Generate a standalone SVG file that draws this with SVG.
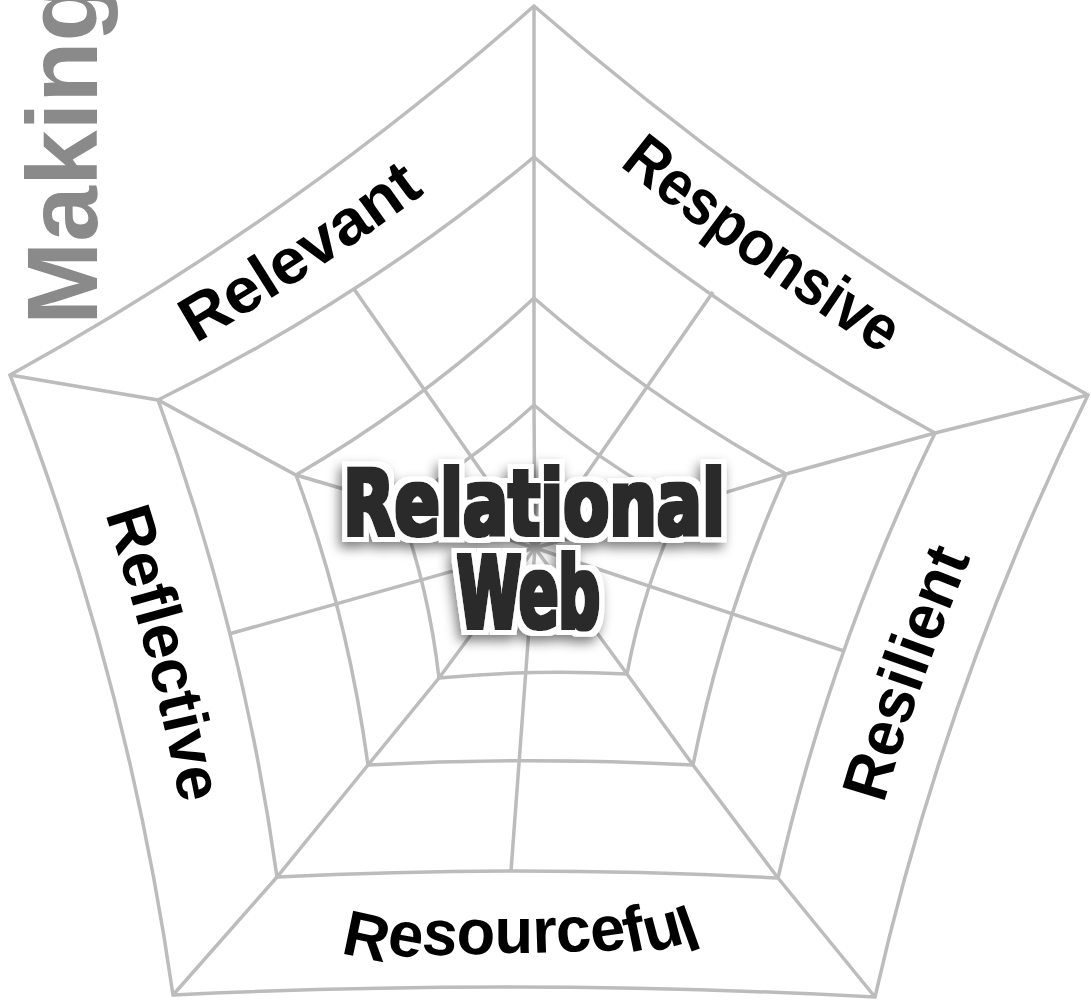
<svg xmlns="http://www.w3.org/2000/svg" width="1091" height="1002" viewBox="0 0 1091 1002">
<style>
.web{fill:none;stroke:#bcbcbc;stroke-width:3.5;stroke-linejoin:miter}
.lbl{font-family:"Liberation Sans",Arial,sans-serif;font-weight:bold;font-size:64px;fill:#000}
.title{font-family:"DejaVu Sans",sans-serif;font-weight:bold;font-stretch:condensed;fill:#2b2b2b}
.side{font-family:"Liberation Sans",Arial,sans-serif;font-weight:bold;fill:#8a8a8a}
</style>
<defs>
<filter id="tt" x="-15%" y="-40%" width="130%" height="190%">
<feMorphology in="SourceAlpha" operator="dilate" radius="1.5" result="bold"/>
<feMorphology in="bold" operator="dilate" radius="4.5" result="halo"/>
<feGaussianBlur in="halo" stdDeviation="6" result="blur"/>
<feOffset in="blur" dx="-3" dy="6" result="off"/>
<feFlood flood-color="#000" flood-opacity="0.5"/>
<feComposite in2="off" operator="in" result="shadow"/>
<feFlood flood-color="#fff"/>
<feComposite in2="halo" operator="in" result="white"/>
<feFlood flood-color="#2b2b2b"/>
<feComposite in2="bold" operator="in" result="dark"/>
<feMerge><feMergeNode in="shadow"/><feMergeNode in="white"/><feMergeNode in="dark"/></feMerge>
</filter>
<path id="pRelevant" d="M106,393 Q349,266 556,88"/>
<path id="pResponsive" d="M515,78 Q741,276 999,425"/>
<path id="pReflective" d="M62.7,393 Q163.7,658 203.7,941.5"/>
<path id="pResilient" d="M846.5,946.5 Q908.4,674.6 1031.5,423"/>
</defs>
<rect width="1091" height="1002" fill="#fff"/>
<text class="side" font-size="100" transform="translate(97,325) rotate(-90)">Making</text>
<g id="connectors" class="web">
<path d="M535,548 534,405 534,298 534,157 534,6"/>
<path d="M535,548 681,506 786,474 935,433 1088,395"/>
<path d="M535,548 627,674 693,765 778,878 875,997"/>
<path d="M535,548 439,678 368,765 277,877 173,995"/>
<path d="M535,548 398,505 296,475 158,400 10,375"/>
<path d="M535,548 354,289 M535,548 713,292 M535,548 844,651 M535,548 511,871 M535,548 229,634"/>
</g>
<g id="ring-outer" class="web"><path d="M534,6 Q788.9,228.3 1088,395 Q945.8,684.2 875,997 Q524.4,978.1 173,995 Q127,674 10,375 Q293,219.1 534,6 Z"/></g>
<g id="ring-2" class="web"><path d="M534,157 Q718.5,315.2 935,433 Q830.8,646.9 778,878 Q527.8,864.3 277,877 Q242.9,631.3 158,400 Q361.1,300.1 534,157 Z"/></g>
<g id="ring-3" class="web"><path d="M534,298 Q650,399 786,474 Q723.1,613.8 693,765 Q529.7,756.3 368,765 Q347.3,613 296,475 Q424.6,400 534,298 Z"/></g>
<g id="ring-4" class="web"><path d="M534,405 Q601.7,462.9 681,506 Q643.1,587 627,674 Q532.6,669 439,678 Q428.3,585 398,505 Q471.1,462 534,405 Z"/></g>
<g id="relevant"><text class="lbl" text-anchor="middle"><textPath href="#pRelevant" startOffset="44%" textLength="275" lengthAdjust="spacingAndGlyphs">Relevant</textPath></text></g>
<g id="responsive"><text class="lbl" text-anchor="middle"><textPath href="#pResponsive" startOffset="50%" textLength="325" lengthAdjust="spacingAndGlyphs">Responsive</textPath></text></g>
<g id="reflective"><text class="lbl" text-anchor="middle"><textPath href="#pReflective" startOffset="49%" textLength="300" lengthAdjust="spacingAndGlyphs">Reflective</textPath></text></g>
<g id="resilient"><text class="lbl" text-anchor="middle"><textPath href="#pResilient" startOffset="50%" textLength="262" lengthAdjust="spacingAndGlyphs">Resilient</textPath></text></g>
<g id="resourceful"><text class="lbl" x="340" y="953" font-size="64" textLength="365" lengthAdjust="spacingAndGlyphs" rotate="12 10 6 3 0 -2 -5 -8 -12 -15 -20">Resourceful</text></g>
<g id="center" class="title" filter="url(#tt)">
<text x="343" y="535" font-size="90" textLength="382" lengthAdjust="spacingAndGlyphs">Relational</text>
<text x="457" y="628" font-size="100" textLength="143" lengthAdjust="spacingAndGlyphs">Web</text>
</g>
</svg>
